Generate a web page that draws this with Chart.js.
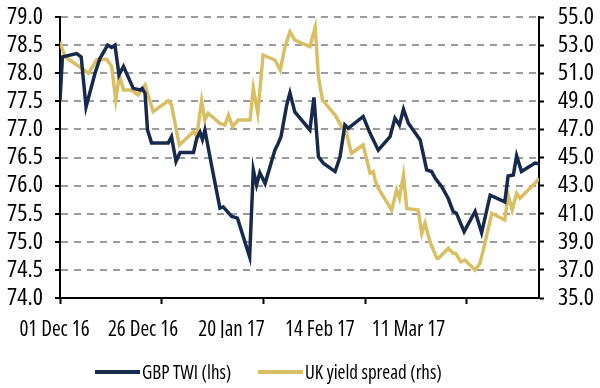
<!DOCTYPE html>
<html>
<head>
<meta charset="utf-8">
<script src="https://cdn.jsdelivr.net/npm/chart.js@4.4.1/dist/chart.umd.min.js"></script>
<style>
    html, body { margin: 0; padding: 0; background: #fff; }
    #wrap { position: relative; width: 600px; height: 388px; }
    #legend { position: absolute; left: 0; top: 360px; width: 600px; height: 24px;
              font-family: 'Open Sans', sans-serif; font-stretch: condensed;
              font-size: 19px; color: #000; }
    #legend .item { position: absolute; top: 0; display: flex; align-items: center; height: 24px; white-space: nowrap; }
    #legend .swatch { display: inline-block; width: 45px; height: 4px; margin-right: 2px; }
</style>
</head>
<body>
<div id="wrap">
    <canvas id="chart" width="600" height="388"></canvas>
    <div id="legend"></div>
</div>
<script>
// Trục thời gian: số ngày kể từ 01 Dec 16
const tickDays = [0, 25, 50, 75, 100];
const tickLabels = ['01 Dec 16', '26 Dec 16', '20 Jan 17', '14 Feb 17', '11 Mar 17'];

const seriesNames = ['GBP TWI (lhs)', 'UK yield spread (rhs)'];
const seriesColors = ['#182a4c', '#d9bf63'];

// GBP TWI (trục trái)
const twiDays = [0, 0.6, 4.1, 5.2, 6.4, 8.6, 9.8, 11.7, 12.7, 13.5, 14.5, 15.6, 18.0, 19.7, 20.2, 20.9, 21.5, 22.5,
    26.6, 27.4, 28.5, 29.5, 32.8, 33.6, 34.4, 35.0, 35.6, 37.3, 39.3, 40.1, 42.2, 43.6, 46.6, 47.5, 48.3, 49.1, 50.4,
    52.8, 53.6, 54.3, 55.7, 56.5, 57.7, 61.4, 62.4, 63.5, 64.7, 67.6, 68.8, 70.0, 70.8, 74.5, 76.2, 78.2, 81.1, 82.3,
    83.4, 84.4, 85.6, 88.5, 90.1, 91.3, 92.3, 93.8, 95.4, 96.6, 97.4, 99.3, 102.0, 103.6, 105.7, 109.3, 110.1, 111.4,
    112.2, 113.4, 116.7, 117.7];
const twiValues = [77.52, 78.29, 78.35, 78.29, 77.40, 78.00, 78.26, 78.50, 78.46, 78.50, 77.97, 78.12, 77.73, 77.70, 77.73, 77.64, 76.99, 76.76,
    76.76, 76.87, 76.43, 76.59, 76.59, 76.84, 76.95, 76.82, 76.99, 76.34, 75.60, 75.62, 75.45, 75.42, 74.73, 76.28, 76.01, 76.23, 76.04,
    76.63, 76.75, 76.87, 77.43, 77.65, 77.31, 76.99, 77.57, 76.51, 76.40, 76.25, 76.51, 77.08, 77.02, 77.23, 76.93, 76.63, 76.87, 77.20,
    77.08, 77.36, 77.11, 76.81, 76.28, 76.25, 76.12, 75.98, 75.77, 75.54, 75.51, 75.18, 75.54, 75.16, 75.83, 75.71, 76.17, 76.19,
    76.53, 76.25, 76.40, 76.39];

// UK yield spread (trục phải)
const spreadDays = [0, 1.2, 5.3, 7.0, 9.0, 11.5, 12.7, 13.7, 14.6, 15.6, 17.6, 19.2, 20.9, 22.9, 24.6, 26.6, 27.4, 29.3,
    31.1, 32.8, 33.6, 34.8, 35.6, 36.4, 39.3, 40.5, 41.4, 42.4, 43.8, 46.7, 47.5, 48.6, 49.9, 52.8, 54.1, 55.3, 56.5,
    57.7, 61.4, 62.7, 63.5, 64.5, 67.6, 69.2, 70.4, 71.6, 74.5, 76.2, 77.0, 77.4, 78.2, 81.5, 82.7, 83.4, 84.4, 85.2,
    88.0, 88.9, 89.7, 90.9, 92.6, 93.0, 95.4, 96.6, 97.2, 98.5, 99.5, 102.0, 103.2, 104.4, 106.1, 109.3, 110.1, 111.1,
    112.2, 113.0, 116.7, 117.7];
const spreadValues = [53.24, 52.17, 51.35, 51.00, 51.94, 51.99, 51.46, 49.09, 50.87, 49.80, 49.80, 49.45, 50.16, 48.26, 48.62, 49.04, 48.74, 45.89,
    46.37, 46.84, 46.48, 49.04, 47.67, 48.15, 47.43, 47.31, 48.02, 47.19, 47.67, 47.67, 49.93, 48.15, 52.30, 51.94, 51.23, 52.89, 53.95,
    53.36, 52.89, 54.27, 50.75, 49.09, 48.02, 47.20, 46.72, 45.30, 45.89, 43.88, 43.99, 43.40, 42.81, 41.26, 42.69, 42.10, 43.75, 41.38,
    41.26, 39.60, 40.32, 39.01, 37.83, 37.83, 38.54, 38.18, 38.18, 37.58, 37.70, 36.99, 37.47, 38.89, 41.03, 40.55, 42.33, 41.26,
    42.45, 42.10, 43.16, 43.52];

// Open Sans có trục độ rộng -> dùng "condensed" cho chữ hẹp giống ảnh gốc
const fontFamily = "'Open Sans', sans-serif";

function toPoints(days, values) {
    return days.map((d, i) => ({ x: d, y: values[i] }));
}

function setDateTicks(scale) {
    scale.ticks = tickDays.map(v => ({ value: v }));
}

// bỏ phần đệm tự động của trục để vùng vẽ nằm đúng chỗ
function fixWidth(w) {
    return s => { s.width = w; s.paddingTop = 0; s.paddingBottom = 0; };
}
function fixHeight(h) {
    return s => { s.height = h; s.paddingLeft = 0; s.paddingRight = 0; };
}

const ctx = document.getElementById('chart').getContext('2d');
const chart = new Chart(ctx, {
    type: 'line',
    data: {
        datasets: [{
            label: seriesNames[0],
            data: toPoints(twiDays, twiValues),
            borderColor: seriesColors[0],
            borderWidth: 3.5,
            pointRadius: 0,
            yAxisID: 'y',
            xAxisID: 'x'
        }, {
            label: seriesNames[1],
            data: toPoints(spreadDays, spreadValues),
            borderColor: seriesColors[1],
            borderWidth: 3.5,
            pointRadius: 0,
            yAxisID: 'y1',
            xAxisID: 'x'
        }]
    },
    options: {
        responsive: false,
        animation: false,
        devicePixelRatio: 1,
        layout: { padding: { top: 17, bottom: 50, left: 0, right: 0 } },
        plugins: { legend: { display: false }, tooltip: { enabled: false } },
        scales: {
            x: {
                type: 'linear',
                position: 'bottom',
                min: 0,
                max: 117.7,
                afterBuildTicks: setDateTicks,
                afterFit: fixHeight(7),
                ticks: { display: false },
                grid: { drawOnChartArea: false, drawTicks: true, tickLength: 6, tickColor: '#000', tickWidth: 2 },
                border: { color: '#000', width: 2 }
            },
            // trục phụ chỉ để vẽ nhãn ngày (nhãn trong ảnh gốc dồn sát nhau hơn vạch chia)
            xLabels: {
                type: 'linear',
                position: 'bottom',
                min: 1.55,
                max: 136.9,
                afterBuildTicks: setDateTicks,
                afterFit: fixHeight(33),
                ticks: {
                    autoSkip: false,
                    maxRotation: 0,
                    padding: 4,
                    color: '#000',
                    font: { family: fontFamily, size: 21, weight: 'condensed' },
                    callback: v => tickLabels[tickDays.indexOf(v)]
                },
                grid: { display: false },
                border: { display: false }
            },
            y: {
                position: 'left',
                min: 74,
                max: 79,
                afterFit: fixWidth(60),
                ticks: {
                    stepSize: 0.5,
                    autoSkip: false,
                    padding: 12,
                    color: '#000',
                    font: { family: fontFamily, size: 24, weight: 'condensed' },
                    callback: v => v.toFixed(1)
                },
                grid: {
                    color: c => (c.tick && c.tick.value === 74) ? 'rgba(0,0,0,0)' : '#9b9b9b',
                    lineWidth: 2,
                    tickColor: '#000',
                    tickLength: 5,
                    tickWidth: 2,
                    tickBorderDash: []
                },
                border: { color: '#000', width: 2, dash: [7, 6] }
            },
            y1: {
                position: 'right',
                min: 35,
                max: 55,
                afterFit: fixWidth(61),
                ticks: {
                    stepSize: 2,
                    autoSkip: false,
                    padding: 14,
                    color: '#000',
                    font: { family: fontFamily, size: 24, weight: 'condensed' },
                    callback: v => v.toFixed(1)
                },
                grid: { drawOnChartArea: false, tickColor: '#000', tickLength: 5, tickWidth: 2 },
                border: { color: '#000', width: 2 }
            }
        }
    }
});

// Chú thích vẽ bằng HTML, lệch trái như ảnh gốc
const legendLeft = [95, 258];
const legendEl = document.getElementById('legend');
seriesNames.forEach((name, i) => {
    const item = document.createElement('div');
    item.className = 'item';
    item.style.left = legendLeft[i] + 'px';
    const sw = document.createElement('span');
    sw.className = 'swatch';
    sw.style.background = seriesColors[i];
    item.appendChild(sw);
    item.appendChild(document.createTextNode(name));
    legendEl.appendChild(item);
});
</script>
</body>
</html>
